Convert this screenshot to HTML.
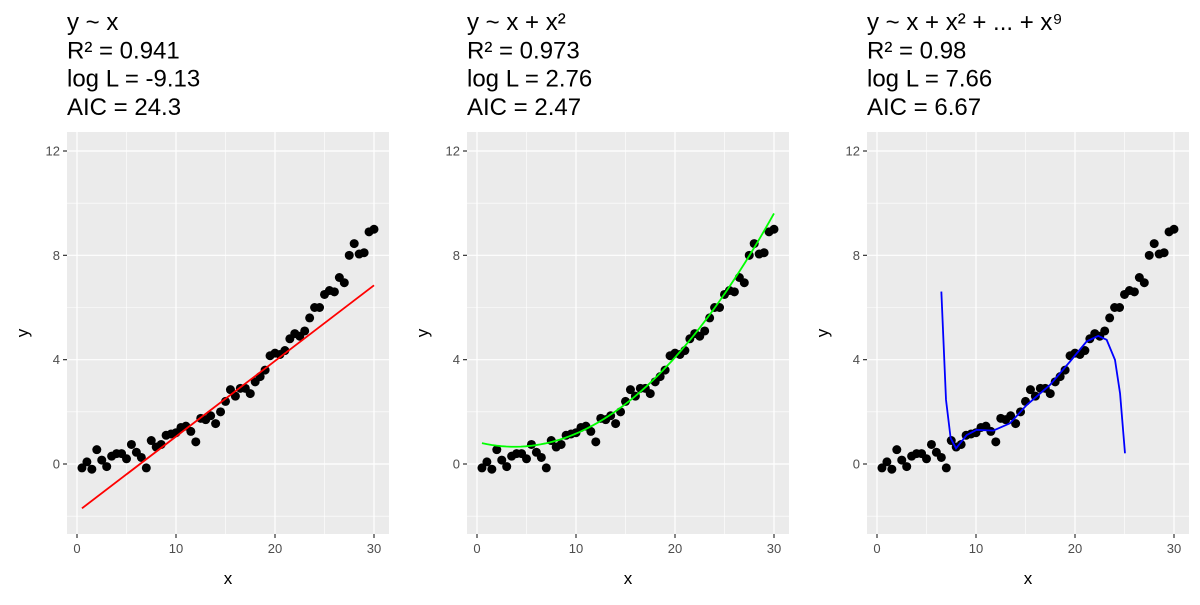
<!DOCTYPE html>
<html><head><meta charset="utf-8"><style>
body{margin:0;background:#fff;width:1200px;height:600px;overflow:hidden}
svg{font-family:"Liberation Sans",sans-serif}
</style></head><body>
<svg id="c" width="1200" height="600" xmlns="http://www.w3.org/2000/svg"></svg>
<script>
const xVals=[0.5,1,1.5,2,2.5,3,3.5,4,4.5,5,5.5,6,6.5,7,7.5,8,8.5,9,9.5,10,10.5,11,11.5,12,12.5,13,13.5,14,14.5,15,15.5,16,16.5,17,17.5,18,18.5,19,19.5,20,20.5,21,21.5,22,22.5,23,23.5,24,24.5,25,25.5,26,26.5,27,27.5,28,28.5,29,29.5,30];
const yVals=[-0.15,0.08,-0.2,0.55,0.15,-0.1,0.3,0.4,0.4,0.2,0.75,0.45,0.25,-0.15,0.9,0.65,0.75,1.1,1.15,1.2,1.4,1.45,1.25,0.85,1.75,1.7,1.85,1.55,2.0,2.4,2.85,2.6,2.9,2.9,2.7,3.15,3.35,3.6,4.15,4.25,4.2,4.35,4.8,5.0,4.9,5.1,5.6,6.0,6.0,6.5,6.65,6.6,7.15,6.95,8.0,8.45,8.05,8.1,8.9,9.0];
const linX=[0.5,30];
const linY=[-1.7,6.85];
const quadCoef=[0.846,-0.098,0.013];
const polyX=[6.5,6.97,7.44,7.98,9.06,10.07,11.75,13.43,15.12,17.47,19.5,21.18,22.35,23.2,24.04,24.55,25.05];
const polyY=[6.61,2.46,0.99,0.6,1.11,1.31,1.28,1.56,2.26,3.03,3.93,4.7,4.91,4.76,3.99,2.71,0.41];
const titles=[["y ~ x","R² = 0.941","log L = -9.13","AIC = 24.3"],["y ~ x + x²","R² = 0.973","log L = 2.76","AIC = 2.47"],["y ~ x + x² + ... + x⁹","R² = 0.98","log L = 7.66","AIC = 6.67"]];
const xTicks=[0,10,20,30];
const yTicks=[0,4,8,12];

const svg=document.getElementById('c');
const NS='http://www.w3.org/2000/svg';
function mk(tag,attrs,parent){const e=document.createElementNS(NS,tag);for(const k in attrs)e.setAttribute(k,attrs[k]);(parent||svg).appendChild(e);return e;}
for(let p=0;p<3;p++){
  const off=p*400;
  const L=67+off,R=389+off,T=132,B=534;
  const sx=v=>77+off+v*(297/30);
  const sy=v=>464-v*(313/12);
  const g=mk('g',{});
  
  
  titles[p].forEach((t,i)=>{const tx=mk('text',{x:L,y:30+i*28.3,'font-size':24,fill:'#000'},g);tx.textContent=t;
    
    });
  const bg=mk('rect',{x:L,y:T,width:R-L,height:B-T,fill:'#ebebeb'},g);
  
  
  // minor grid
  for(let v=5;v<=30;v+=10) if(sx(v)<R) mk('line',{x1:sx(v),x2:sx(v),y1:T,y2:B,stroke:'#fff','stroke-width':0.6},g);
  for(let v=-2;v<=10;v+=4) mk('line',{x1:L,x2:R,y1:sy(v),y2:sy(v),stroke:'#fff','stroke-width':0.6},g);
  xTicks.forEach(v=>{mk('line',{x1:sx(v),x2:sx(v),y1:T,y2:B,stroke:'#fff','stroke-width':1.2},g);
    mk('line',{x1:sx(v),x2:sx(v),y1:B,y2:B+4,stroke:'#333','stroke-width':1.2},g);
    const t=mk('text',{x:sx(v),y:B+19,'font-size':13,fill:'#4d4d4d','text-anchor':'middle'},g);t.textContent=v;
    
    });
  yTicks.forEach(v=>{mk('line',{x1:L,x2:R,y1:sy(v),y2:sy(v),stroke:'#fff','stroke-width':1.2},g);
    mk('line',{x1:L-4,x2:L,y1:sy(v),y2:sy(v),stroke:'#333','stroke-width':1.2},g);
    const t=mk('text',{x:L-7,y:sy(v)+4.5,'font-size':13,fill:'#4d4d4d','text-anchor':'end'},g);t.textContent=v;
    
    });
  const xt=mk('text',{x:(L+R)/2,y:584,'font-size':17,'text-anchor':'middle'},g);xt.textContent='x';
  
  
  const yt=mk('text',{x:0,y:0,'font-size':17,'text-anchor':'middle',transform:`translate(${off+28},${(T+B)/2}) rotate(-90)`},g);yt.textContent='y';
  
  
  xVals.forEach((x,i)=>{const c=mk('circle',{cx:sx(x),cy:sy(yVals[i]),r:4.5,fill:'#000'},g);
    
    });
  let pts;
  let col;
  if(p===0){pts=linX.map((x,i)=>sx(x)+','+sy(linY[i]));col='#ff0000';}
  else if(p===1){pts=[];for(let k=0;k<=60;k++){const x=0.5+k*(29.5/60);pts.push(sx(x)+','+sy(quadCoef[0]+quadCoef[1]*x+quadCoef[2]*x*x));}col='#00ff00';}
  else {pts=polyX.map((x,i)=>sx(x)+','+sy(polyY[i]));col='#0000ff';}
  const fl=mk('polyline',{points:pts.join(' '),fill:'none',stroke:col,'stroke-width':1.8},g);
  
  
}
</script>
</body></html>
